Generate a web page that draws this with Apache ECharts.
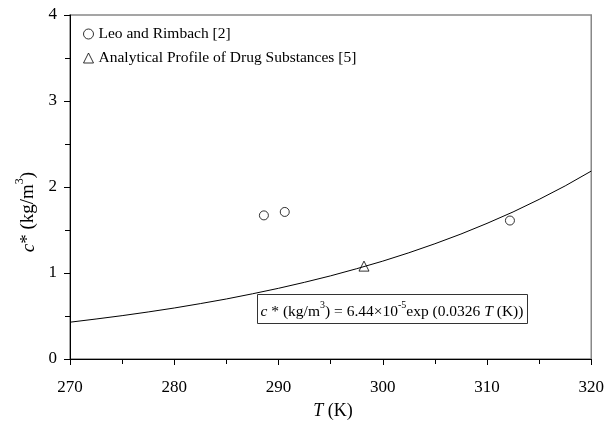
<!DOCTYPE html>
<html><head><meta charset="utf-8">
<script src="https://cdn.jsdelivr.net/npm/echarts@6/dist/echarts.min.js"></script>
<style>html,body{margin:0;padding:0;background:#fff}#c{width:607px;height:423px}</style>
</head><body><div id="c"></div>
<script>
const curveT = [270,272.5,275,277.5,280,282.5,285,287.5,290,292.5,295,297.5,300,302.5,305,307.5,310,312.5,315,317.5,320];
const curveC = [0.428,0.465,0.504,0.547,0.593,0.644,0.698,0.758,0.822,0.892,0.967,1.050,1.138,1.235,1.340,1.453,1.577,1.710,1.856,2.013,2.185];
const leoT = [288.6, 290.6, 312.2];
const leoC = [1.67, 1.71, 1.61];
const apdsT = [298.2];
const apdsC = [1.08];
const xTicks = [270,280,290,300,310,320];
const yTicks = [0,1,2,3,4];
const seriesNames = ['Leo and Rimbach [2]', 'Analytical Profile of Drug Substances [5]'];

const FONT = 'Liberation Serif';
const chart = echarts.init(document.getElementById('c'));
const zip = (a,b)=>a.map((v,i)=>[v,b[i]]);
const hollow = {color:'#fff', borderColor:'#000', borderWidth:1};
const richSet = (fs, sfs, lh) => ({
  n:{fontSize:fs,fontFamily:FONT,lineHeight:lh,verticalAlign:'bottom'},
  i:{fontSize:fs,fontFamily:FONT,fontStyle:'italic',lineHeight:lh,verticalAlign:'bottom'},
  s:{fontSize:sfs,fontFamily:FONT,lineHeight:sfs+2,verticalAlign:'top'}
});
chart.setOption({
  animation:false,
  backgroundColor:'#fff',
  textStyle:{fontFamily:FONT},
  grid:{left:70,right:15,top:15,bottom:64,show:true,borderColor:'#888',borderWidth:1.5,backgroundColor:'transparent'},
  legend:{
    orient:'vertical', left:78, top:21, itemWidth:10, itemHeight:10, itemGap:8, itemStyle:{borderWidth:1},
    textStyle:{fontFamily:FONT,fontSize:15.5,color:'#000'},
    data:[
      {name:seriesNames[0], icon:'circle', itemStyle:hollow},
      {name:seriesNames[1], icon:'triangle', itemStyle:hollow}
    ]
  },
  xAxis:{
    type:'value', min:xTicks[0], max:xTicks[xTicks.length-1], interval:10,
    axisLine:{lineStyle:{color:'#000'}},
    axisTick:{show:true,length:6,lineStyle:{color:'#000'}},
    minorTick:{show:true,splitNumber:2,length:5,lineStyle:{color:'#000'}},
    splitLine:{show:false},
    axisLabel:{fontFamily:FONT,fontSize:17,color:'#000',margin:20}
  },
  yAxis:{
    type:'value', min:yTicks[0], max:yTicks[yTicks.length-1], interval:1,
    axisLine:{show:true,lineStyle:{color:'#000'}},
    axisTick:{show:true,length:6,lineStyle:{color:'#000'}},
    minorTick:{show:true,splitNumber:2,length:5,lineStyle:{color:'#000'}},
    splitLine:{show:false},
    axisLabel:{fontFamily:FONT,fontSize:17,color:'#000',margin:13}
  },
  graphic:[
    {type:'text', x:333, y:410,
      style:{text:'{i|T}{n| (K)}', fill:'#000', align:'center', verticalAlign:'middle', rich:richSet(18,12,20)}},
    {type:'text', x:26, y:212, rotation:Math.PI/2,
      style:{text:'{i|c}{n|* (kg/m}{s|3}{n|)}', fill:'#000', align:'center', verticalAlign:'middle', rich:richSet(19,12,24)}},
    {type:'rect', shape:{x:257.5,y:294.5,width:270,height:29}, style:{fill:'#fff',stroke:'#333',lineWidth:1}, z:100},
    {type:'text', x:392, y:310, z:101,
      style:{text:'{i|c}{n| * (kg/m}{s|3}{n|) = 6.44×10}{s|-5}{n|exp (0.0326 }{i|T}{n| (K))}', fill:'#000', align:'center', verticalAlign:'middle',
        rich:richSet(15.5,10,20)}}
  ],
  series:[
    {type:'line', data:zip(curveT,curveC), symbol:'none', smooth:false, lineStyle:{color:'#000',width:1}, silent:true},
    {type:'scatter', name:seriesNames[0], data:zip(leoT,leoC), symbol:'circle', symbolSize:9, itemStyle:hollow},
    {type:'scatter', name:seriesNames[1], data:zip(apdsT,apdsC), symbol:'triangle', symbolSize:10, itemStyle:hollow}
  ]
});
</script></body></html>
